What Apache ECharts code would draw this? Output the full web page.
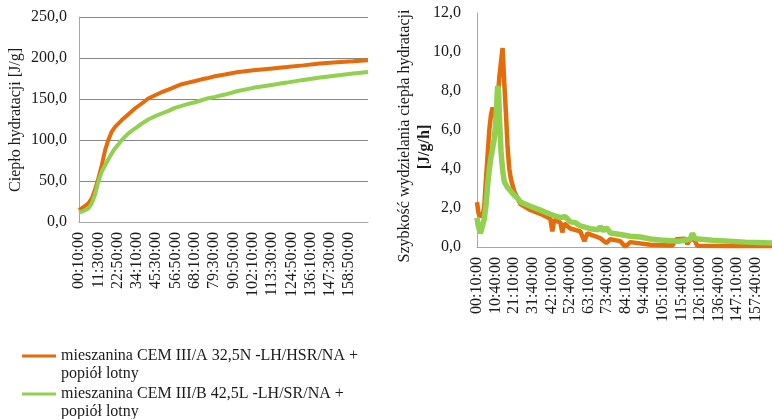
<!DOCTYPE html>
<html><head><meta charset="utf-8">
<script src="https://cdn.jsdelivr.net/npm/echarts@6/dist/echarts.min.js"></script>
<style>html,body{margin:0;padding:0;background:#fff}#c{width:772px;height:419px}</style>
</head><body><div id="c"></div>
<script>
// Series names (legend)
const seriesNames = [
  'mieszanina CEM III/A 32,5N -LH/HSR/NA +\npopiół lotny',
  'mieszanina CEM III/B 42,5L -LH/SR/NA +\npopiół lotny'
];
const seriesColors = ['#E46C0A', '#92D050'];

// Left chart: cumulative heat [J/g]; time = minutes after 00:10:00
const leftTickLabels = ['00:10:00','11:30:00','22:50:00','34:10:00','45:30:00','56:50:00','68:10:00','79:30:00','90:50:00','102:10:00','113:30:00','124:50:00','136:10:00','147:30:00','158:50:00'];
const leftTickStep = 680;
const leftTimeMax = 10180;
const leftTimes = [0,150,330,450,560,680,800,920,1030,1150,1270,1500,1740,1970,2210,2440,2680,2910,3150,3380,3620,3850,4090,4320,4560,4790,5140,5560,6140,6730,7320,7900,8490,9080,9660,10180];
const leftOrange = [14.5,18,22.7,28.8,39,53,69,87.7,99.8,110,116,124,131.5,138.4,144.5,150.6,154.6,158.3,161.5,164.8,168,170,172,174,175.7,177.8,179.8,182.6,185,187,189,191,193.2,194.8,196,197.2];
const leftGreen = [11.5,13.4,16.6,22.7,32.9,49,61.3,69.4,76.3,83.6,89.7,99.8,108,114,120,125,129,132.3,135.6,139.2,141.6,144,146,148.5,151,152.6,155.4,159.5,163.6,166.8,170,173.3,176.1,178.6,181,183];

// Right chart: heat flow [J/g/h]; time = minutes after 00:10:00
const rightTickLabels = ['00:10:00','10:40:00','21:10:00','31:40:00','42:10:00','52:40:00','63:10:00','73:40:00','84:10:00','94:40:00','105:10:00','115:40:00','126:10:00','136:40:00','147:10:00','157:40:00'];
const rightTickStep = 630;
const rightTimeMax = 10000;
const rightOrangeTimes = [0,44,78,190,247,305,359,417,475,529,586,620,654,698,756,814,868,925,983,1037,1095,1153,1264,1376,1468,1807,2146,2485,2553,2620,2824,2892,2960,3163,3502,3638,3740,4011,4180,4384,4519,4858,5027,5197,5875,6621,6756,7061,7129,7231,7367,7468,8587,10000];
const rightOrange = [2.3,1.8,1.6,1.6,2.1,3.5,4.7,6.0,6.8,7.15,6.95,6.65,6.9,7.5,8.7,9.5,10.2,8.4,6.8,5.1,4.0,3.45,2.85,2.5,2.2,1.9,1.7,1.45,0.8,1.4,1.25,0.75,1.2,0.95,0.8,0.3,0.7,0.55,0.45,0.2,0.4,0.3,0.02,0.25,0.12,0.08,0.4,0.42,0.15,0.4,0.38,0.06,0.05,0.05];
const rightGreenTimes = [0,40,112,150,190,247,305,359,417,475,529,586,644,698,732,756,814,868,925,1037,1153,1264,1376,1468,1807,2146,2485,2824,2993,3163,3332,3502,3841,4112,4180,4282,4384,4519,4858,5197,5536,5875,6214,6824,7231,7299,7401,7977,9096,10000];
const rightGreen = [1.5,1.1,0.7,0.75,1.1,1.45,2.15,3.15,4.0,4.6,5.05,5.55,6.6,8.25,8.0,6.8,4.9,3.95,3.35,3.05,2.85,2.65,2.5,2.31,2.09,1.89,1.68,1.51,1.55,1.29,1.25,1.08,0.94,0.88,1.05,0.82,1.0,0.72,0.64,0.55,0.51,0.41,0.36,0.29,0.4,0.7,0.42,0.35,0.25,0.2];

const FONT = 'Liberation Serif';
const TXT = '#1a1a1a';
const zip = (xs, ys) => xs.map((x, i) => [x, ys[i]]);
const comma = v => v.toFixed(1).replace('.', ',');
const tickFmt = (labels, step) => v => {
  const i = v / step;
  return Number.isInteger(i) ? (labels[i] || '') : '';
};

const xAxisBase = {
  type: 'value',
  axisLine: { show: true, lineStyle: { color: '#A6A6A6', width: 1 } },
  axisTick: { show: false },
  splitLine: { show: false },
  axisLabel: { rotate: 90, margin: 10, fontFamily: FONT, fontSize: 16, color: TXT, showMaxLabel: false }
};

const chart = echarts.init(document.getElementById('c'), null, { renderer: 'canvas' });
chart.setOption({
  animation: false,
  backgroundColor: '#fff',
  grid: [
    { left: 79, top: 17, width: 289, height: 205 },
    { left: 477, top: 13, width: 295, height: 234 }
  ],
  xAxis: [
    Object.assign({}, xAxisBase, { gridIndex: 0, min: 0, max: leftTimeMax, interval: leftTickStep,
      axisLabel: Object.assign({}, xAxisBase.axisLabel, { formatter: tickFmt(leftTickLabels, leftTickStep) }) }),
    Object.assign({}, xAxisBase, { gridIndex: 1, min: 0, max: rightTimeMax, interval: rightTickStep,
      axisLabel: Object.assign({}, xAxisBase.axisLabel, { formatter: tickFmt(rightTickLabels, rightTickStep) }) })
  ],
  yAxis: [
    { type: 'value', gridIndex: 0, min: 0, max: 250, interval: 50,
      axisLine: { show: true, lineStyle: { color: '#A6A6A6' } },
      axisTick: { show: false },
      splitLine: { show: true, lineStyle: { color: '#868686', width: 1 } },
      axisLabel: { margin: 12, fontFamily: FONT, fontSize: 16, color: TXT, formatter: comma } },
    { type: 'value', gridIndex: 1, min: 0, max: 12, interval: 2,
      axisLine: { show: true, lineStyle: { color: '#A6A6A6' } },
      axisTick: { show: false },
      splitLine: { show: false },
      axisLabel: { margin: 16, fontFamily: FONT, fontSize: 16, color: TXT, formatter: comma } }
  ],
  legend: [0, 1].map(i => ({
    data: [seriesNames[i]],
    left: 17, top: i === 0 ? 324 : 362,
    orient: 'vertical', icon: 'rect', itemWidth: 34, itemHeight: 3, itemGap: 0,
    selectedMode: false,
    formatter: name => '\n' + name,
    textStyle: { fontFamily: FONT, fontSize: 16, color: TXT, lineHeight: 18 }
  })),
  graphic: [
    { type: 'text', x: 16, y: 120, rotation: Math.PI / 2,
      style: { text: 'Ciepło hydratacji [J/g]', fontFamily: FONT, fontSize: 16, fill: TXT, align: 'center', verticalAlign: 'middle' } },
    { type: 'text', x: 405, y: 136, rotation: Math.PI / 2,
      style: { text: 'Szybkość wydzielania ciepła hydratacji', fontFamily: FONT, fontSize: 16, fill: TXT, align: 'center', verticalAlign: 'middle' } },
    { type: 'text', x: 425, y: 147, rotation: Math.PI / 2,
      style: { text: '[J/g/h]', fontFamily: FONT, fontSize: 16, fontWeight: 'bold', fill: TXT, align: 'center', verticalAlign: 'middle' } }
  ],
  series: [
    { name: seriesNames[0], type: 'line', xAxisIndex: 0, yAxisIndex: 0, symbol: 'none', data: zip(leftTimes, leftOrange),
      itemStyle: { color: seriesColors[0] }, lineStyle: { color: seriesColors[0], width: 4 } },
    { name: seriesNames[1], type: 'line', xAxisIndex: 0, yAxisIndex: 0, symbol: 'none', data: zip(leftTimes, leftGreen),
      itemStyle: { color: seriesColors[1] }, lineStyle: { color: seriesColors[1], width: 4 } },
    { name: seriesNames[0], type: 'line', xAxisIndex: 1, yAxisIndex: 1, symbol: 'none', data: zip(rightOrangeTimes, rightOrange),
      itemStyle: { color: seriesColors[0] }, lineStyle: { color: seriesColors[0], width: 4.5 } },
    { name: seriesNames[1], type: 'line', xAxisIndex: 1, yAxisIndex: 1, symbol: 'none', data: zip(rightGreenTimes, rightGreen),
      itemStyle: { color: seriesColors[1] }, lineStyle: { color: seriesColors[1], width: 5.5 } }
  ]
});
</script>
</body></html>
